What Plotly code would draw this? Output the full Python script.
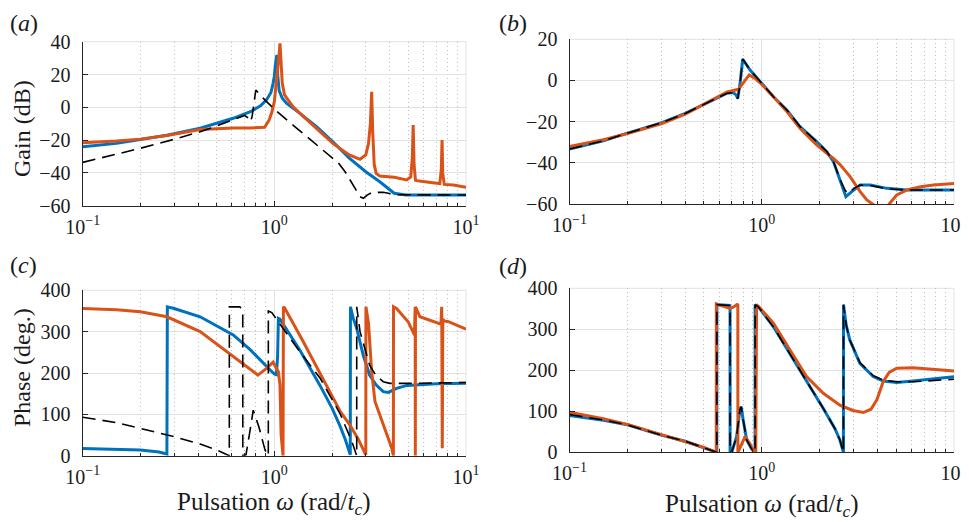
import plotly.graph_objects as go

# ---------------- data ----------------
# Panel (a): gain (dB)
a_blue_w = [0.1, 0.15, 0.2, 0.275, 0.41, 0.5, 0.61, 0.75, 0.85, 0.91, 0.96, 0.985, 1.0, 1.01, 1.02, 1.03,
            1.04, 1.06, 1.1, 1.16, 1.36, 1.66, 2.02, 2.46, 3.0, 3.55, 4.22, 4.85, 6.0, 8.0, 10.0]
a_blue_db = [-24.0, -22.0, -19.6, -17.0, -12.8, -9.8, -6.7, -2.7, 1.0, 4.5, 9.0, 14.6, 19.0, 24.8, 29.0, 31.9,
             20.0, 10.0, 5.5, 2.4, -3.7, -11.8, -21.0, -31.0, -39.3, -45.4, -52.4, -53.5, -53.5, -53.5, -53.5]

a_orange_w = [0.1, 0.15, 0.2, 0.275, 0.41, 0.5, 0.61, 0.75, 0.89, 0.94, 0.97, 1.0, 1.03, 1.05, 1.06, 1.07,
              1.08, 1.1, 1.13, 1.25, 1.36, 1.66, 2.02, 2.46, 2.8, 3.0, 3.1, 3.17, 3.22, 3.26, 3.32, 3.4,
              3.55, 4.22, 4.9, 5.15, 5.25, 5.3, 5.36, 5.45, 5.7, 6.7, 7.3, 7.43, 7.5, 7.56, 7.7, 8.6, 10.0]
a_orange_db = [-21.6, -20.6, -19.4, -17.2, -13.6, -13.0, -12.6, -12.6, -12.2, -7.7, -3.0, 3.4, 16.6, 27.0, 33.0, 39.0,
               28.0, 14.6, 7.5, 0.4, -3.7, -12.8, -22.0, -29.0, -31.7, -29.0, -22.0, -10.0, 9.5, -15.0, -35.0, -40.3,
               -41.9, -42.7, -44.3, -42.5, -30.0, -10.8, -35.0, -44.5, -45.0, -46.0, -46.5, -38.0, -20.0, -40.0, -47.0, -47.4, -48.8]

a_black_w = [0.1, 0.15, 0.2, 0.3, 0.41, 0.5, 0.61, 0.70, 0.73, 0.746, 0.765, 0.78, 0.80, 0.894, 1.01, 1.31,
             1.66, 2.16, 2.34, 2.6, 2.8, 2.91, 3.05, 3.22, 3.7, 4.3, 6.0, 10.0]
a_black_db = [-33.6, -28.7, -25.0, -19.5, -14.9, -11.4, -7.7, -5.0, -6.5, -8.8, -6.0, 2.0, 10.5, 4.4, -1.6, -12.8,
              -23.0, -34.0, -39.3, -48.4, -54.5, -55.5, -53.5, -52.0, -51.8, -53.3, -53.5, -53.5]

# Panel (b): gain (dB)
b_blue_w = [0.1, 0.15, 0.2, 0.3, 0.4, 0.477, 0.58, 0.66, 0.71, 0.735, 0.75, 0.77, 0.796, 0.87, 1.0, 1.15,
            1.35, 1.58, 1.93, 2.18, 2.36, 2.56, 2.74, 2.94, 3.25, 3.67, 4.48, 5.7, 10.0]
b_blue_db = [-33.3, -29.3, -25.6, -20.6, -16.0, -12.7, -8.7, -6.2, -5.9, -7.0, -8.7, -2.0, 10.3, 5.1, -1.4, -7.9,
             -14.3, -22.4, -29.7, -34.6, -39.4, -48.3, -56.4, -54.0, -50.8, -50.8, -52.4, -53.2, -53.2]

b_orange_w = [0.1, 0.15, 0.2, 0.3, 0.4, 0.477, 0.58, 0.66, 0.757, 0.82, 0.86, 0.92, 1.0, 1.15, 1.35, 1.58,
              1.93, 2.18, 2.36, 2.56, 2.88, 3.25, 3.52, 3.84, 4.05, 4.25, 4.45, 4.6, 5.04, 5.7, 6.7, 7.8, 10.0]
b_orange_db = [-32.1, -28.8, -25.8, -21.0, -16.4, -12.5, -8.2, -5.6, -4.3, 0.2, 2.7, 1.1, -1.9, -7.9, -15.1, -23.2,
               -31.3, -35.4, -37.8, -41.0, -46.7, -54.0, -58.0, -60.5, -63.0, -64.0, -63.0, -60.0, -55.6, -53.2, -51.6, -50.8, -50.0]

b_black_w = [0.1, 0.15, 0.2, 0.3, 0.4, 0.477, 0.58, 0.66, 0.71, 0.735, 0.75, 0.77, 0.796, 0.87, 1.0, 1.15,
             1.35, 1.58, 1.93, 2.18, 2.36, 2.56, 2.72, 2.85, 3.0, 3.25, 3.67, 4.48, 5.7, 10.0]
b_black_db = [-33.3, -29.3, -25.6, -20.6, -16.0, -12.7, -8.7, -6.2, -5.9, -7.0, -9.0, -2.0, 10.5, 5.1, -1.4, -7.9,
              -14.3, -22.4, -29.7, -34.6, -39.4, -48.3, -53.5, -54.8, -52.5, -50.8, -51.0, -52.6, -53.2, -53.2]

# Panel (c): phase (deg.)
c_blue_w = [0.1, 0.15, 0.2, 0.25, 0.275, 0.2765, 0.30, 0.41, 0.61, 0.75, 0.91, 0.97, 1.0, 1.025, 1.04, 1.05,
            1.07, 1.2, 1.36, 1.73, 2.0, 2.2, 2.35, 2.49, 2.495, 2.58, 2.69, 2.91, 3.14, 3.4, 3.7, 3.94, 4.34,
            4.92, 5.6, 7.0, 10.0]
c_blue_deg = [17.7, 15.5, 13.5, 9.0, 4.0, 360, 356, 336, 292, 256, 215, 203, 198, 196, 240, 332,
              330, 295, 255, 170, 115, 72, 38, 2, 360, 332, 308, 243, 195, 171, 155, 153, 163,
              170, 172, 174, 175]

c_orange_w = [0.1, 0.15, 0.2, 0.275, 0.41, 0.61, 0.70, 0.82, 0.91, 0.985, 1.05, 1.07, 1.085, 1.1, 1.11, 1.115,
              1.13, 1.4, 1.73, 2.2, 2.48, 2.74, 3.0, 3.005, 3.10, 3.17, 3.22, 3.35, 3.7, 4.1, 4.18, 4.185,
              4.34, 4.99, 5.38, 5.43, 5.44, 5.45, 5.75, 6.76, 7.4, 7.47, 7.52, 7.57, 7.7, 8.1, 8.93, 10.0]
c_orange_deg = [356, 353, 348, 336, 300, 239, 219, 195, 211, 226, 203, 171, 50, 10, 0, 360,
                358, 280, 198, 108, 74, 40, 2, 360, 320, 250, 203, 131, 74, 18, 0, 360,
                356, 324, 292, 360, 0, 360, 336, 324, 318, 360, 18, 330, 326, 324, 316, 306]

c_black_w = [0.1, 0.15, 0.2, 0.3, 0.41, 0.5, 0.582, 0.5825, 0.66, 0.684, 0.6845, 0.711, 0.74, 0.776, 0.83,
             0.894, 0.93, 0.9305, 0.97, 1.36, 1.73, 2.2, 2.54, 2.66, 2.69, 2.6905, 2.8, 3.14, 3.40, 3.70,
             4.0, 5.0, 10.0]
c_black_deg = [93, 80, 66, 46, 28, 14, 0, 360, 360, 352, 0, 2, 50, 110, 70, 14, 0, 350, 346, 251, 188,
               102, 34, 5, 0, 360, 300, 219, 193, 179, 175, 175, 177]

# Panel (d): phase (deg.)
d_blue_w = [0.1, 0.15, 0.2, 0.3, 0.4, 0.5, 0.584, 0.5845, 0.632, 0.68, 0.684, 0.6845, 0.70, 0.74, 0.77,
            0.782, 0.80, 0.835, 0.887, 0.923, 0.9235, 0.96, 1.15, 1.40, 1.71, 2.09, 2.40, 2.55, 2.66,
            2.662, 2.75, 2.87, 3.24, 3.8, 4.28, 5.03, 6.1, 8.0, 10.0]
d_blue_deg = [90, 78, 67, 42, 27, 12, 0, 360, 359, 358, 355, 0, 2, 38, 105, 111, 80, 30, 8, 0, 360, 355,
              306, 241, 172, 107, 58, 30, 0, 360, 310, 274, 217, 185, 174, 170, 174, 180, 184]

d_orange_w = [0.1, 0.15, 0.2, 0.3, 0.4, 0.5, 0.58, 0.5805, 0.62, 0.685, 0.71, 0.751, 0.7515, 0.77, 0.819,
              0.87, 0.905, 0.931, 0.94, 0.98, 1.15, 1.40, 1.58, 1.71, 2.09, 2.55, 2.98, 3.38, 3.7, 3.97,
              4.28, 4.6, 5.03, 6.1, 8.0, 10.0]
d_orange_deg = [97.6, 82, 68, 44, 26, 12, 0, 362, 357, 351, 354, 362, 0, 10, 38, 20, 3, 0, 360, 352,
                315, 250, 209, 185, 144, 115, 102, 97, 105, 128, 172, 195, 205, 206.5, 202, 198]

d_black_w = [0.1, 0.15, 0.2, 0.3, 0.4, 0.5, 0.584, 0.5845, 0.632, 0.68, 0.684, 0.6845, 0.70, 0.74, 0.77,
             0.782, 0.80, 0.835, 0.887, 0.923, 0.9235, 0.96, 1.15, 1.40, 1.71, 2.09, 2.40, 2.55, 2.66,
             2.662, 2.75, 2.87, 3.24, 3.8, 4.28, 5.03, 6.1, 8.0, 10.0]
d_black_deg = [92, 79, 67, 42, 27, 12, 0, 360, 359, 358, 355, 0, 2, 38, 105, 111, 80, 30, 8, 0, 360, 355,
               306, 241, 172, 107, 58, 30, 0, 360, 310, 274, 219, 187, 176, 172, 172, 176, 178]

gain_ticks = [-60, -40, -20, 0, 20, 40]
gain_ticks_b = [-60, -40, -20, 0, 20]
phase_ticks = [0, 100, 200, 300, 400]
x_ticks = [0.1, 1, 10]
x_ticktext = ["10<sup>\u22121</sup>", "10<sup>0</sup>", "10<sup>1</sup>"]
x_minor = [0.2, 0.3, 0.4, 0.5, 0.6, 0.7, 0.8, 0.9, 2, 3, 4, 5, 6, 7, 8, 9]

# ---------------- styling ----------------
W, H = 969, 522
OFF = 8  # default page body margin: screen position = figure position + 8 px
BLUE = "#0072BD"
ORANGE = "#D95319"
FONT = "'Liberation Serif', 'Times New Roman', 'DejaVu Serif', serif"
TXT = "#1a1a1a"
AX = "#262626"
TICK_SIZE = 20
TITLE_SIZE = 25


def px_x(p):
    return (p - OFF) / W


def px_y(p):
    return 1 - (p - OFF) / H


fig = go.Figure()

panels = [
    ("x", "y", a_blue_w, a_blue_db, a_orange_w, a_orange_db, a_black_w, a_black_db),
    ("x2", "y2", b_blue_w, b_blue_db, b_orange_w, b_orange_db, b_black_w, b_black_db),
    ("x3", "y3", c_blue_w, c_blue_deg, c_orange_w, c_orange_deg, c_black_w, c_black_deg),
    ("x4", "y4", d_blue_w, d_blue_deg, d_orange_w, d_orange_deg, d_black_w, d_black_deg),
]
for xa, ya, bw, bv, ow, ov, kw, kv in panels:
    fig.add_trace(go.Scatter(x=bw, y=bv, xaxis=xa, yaxis=ya, mode="lines",
                             line=dict(color=BLUE, width=3), showlegend=False))
    fig.add_trace(go.Scatter(x=ow, y=ov, xaxis=xa, yaxis=ya, mode="lines",
                             line=dict(color=ORANGE, width=3), showlegend=False))
    fig.add_trace(go.Scatter(x=kw, y=kv, xaxis=xa, yaxis=ya, mode="lines",
                             line=dict(color="black", width=1.6, dash="13px,7px"), showlegend=False))


def xaxis(domain, anchor):
    return dict(type="log", range=[-1, 1], domain=domain, anchor=anchor, automargin=False,
                showline=True, linecolor=AX, linewidth=1.2, mirror=False,
                ticks="inside", ticklen=5, tickwidth=1, tickcolor=AX,
                tickmode="array", tickvals=x_ticks, ticktext=x_ticktext,
                tickfont=dict(family=FONT, size=TICK_SIZE, color=TXT),
                ticklabelstandoff=3, ticklabeloverflow="allow",
                showgrid=True, gridcolor="#e2e2e2", gridwidth=1, zeroline=False,
                minor=dict(tickmode="array", tickvals=x_minor, ticks="inside", ticklen=3,
                           tickcolor=AX, showgrid=True, gridcolor="#bdbdbd",
                           griddash="1px,3px", gridwidth=1))


def yaxis(domain, anchor, rng, ticks):
    return dict(range=rng, domain=domain, anchor=anchor, automargin=False,
                showline=True, linecolor=AX, linewidth=1.2, mirror=False,
                ticks="inside", ticklen=5, tickwidth=1, tickcolor=AX,
                tickmode="array", tickvals=ticks,
                tickfont=dict(family=FONT, size=TICK_SIZE, color=TXT),
                ticklabelstandoff=7, ticklabeloverflow="allow",
                showgrid=True, gridcolor="#e2e2e2", gridwidth=1, zeroline=False)


xl = [px_x(82.7), px_x(466)]
xr = [px_x(569.5), px_x(954)]
ya_dom = [px_y(205.7), px_y(41.7)]
yb_dom = [px_y(204), px_y(39.3)]
yc_dom = [px_y(455.7), px_y(290.3)]
yd_dom = [px_y(452.3), px_y(288.3)]

fig.update_layout(
    width=W, height=H, margin=dict(l=0, r=0, t=0, b=0, autoexpand=False),
    paper_bgcolor="white", plot_bgcolor="white",
    xaxis=xaxis(xl, "y"),
    yaxis=yaxis(ya_dom, "x", [-60, 40], gain_ticks),
    xaxis2=xaxis(xr, "y2"),
    yaxis2=yaxis(yb_dom, "x2", [-60, 20], gain_ticks_b),
    xaxis3=xaxis(xl, "y3"),
    yaxis3=yaxis(yc_dom, "x3", [0, 400], phase_ticks),
    xaxis4=xaxis(xr, "y4"),
    yaxis4=yaxis(yd_dom, "x4", [0, 400], phase_ticks),
)

# light border at top and right (grid lines at range ends)
for xa, ya in [("x", "y"), ("x2", "y2"), ("x3", "y3"), ("x4", "y4")]:
    fig.add_shape(type="line", xref=f"{xa} domain", yref=f"{ya} domain", x0=0, x1=1, y0=1, y1=1,
                  line=dict(color="#e2e2e2", width=1), layer="below")
    fig.add_shape(type="line", xref=f"{xa} domain", yref=f"{ya} domain", x0=1, x1=1, y0=0, y1=1,
                  line=dict(color="#e2e2e2", width=1), layer="below")

# axis titles
xtitle = "Pulsation <i>\u03c9</i> (rad/<i>t<sub>c</sub></i>)"
titles = [
    ("Gain (dB)", 22, 129, -90, 24),
    ("Phase (deg.)", 22, 368, -90, 24),
    (xtitle, 274.4, 503, 0, TITLE_SIZE),
    (xtitle, 761.7, 505, 0, TITLE_SIZE),
]
for t, x, y, ang, fs in titles:
    fig.add_annotation(text=t, xref="paper", yref="paper", x=px_x(x), y=px_y(y),
                       xanchor="center", yanchor="middle", showarrow=False, textangle=ang,
                       font=dict(family=FONT, size=fs, color=TXT))

# panel labels (left edge in screen pixels, vertical centre)
labels = [("(<i>a</i>)", 9, 23), ("(<i>b</i>)", 498, 23), ("(<i>c</i>)", 9, 265), ("(<i>d</i>)", 498, 266)]
for t, x, y in labels:
    fig.add_annotation(text=t, xref="paper", yref="paper", x=px_x(x), y=px_y(y),
                       xanchor="left", yanchor="middle", showarrow=False, borderpad=0,
                       font=dict(family=FONT, size=24, color=TXT))

fig.write_html("out.html")
